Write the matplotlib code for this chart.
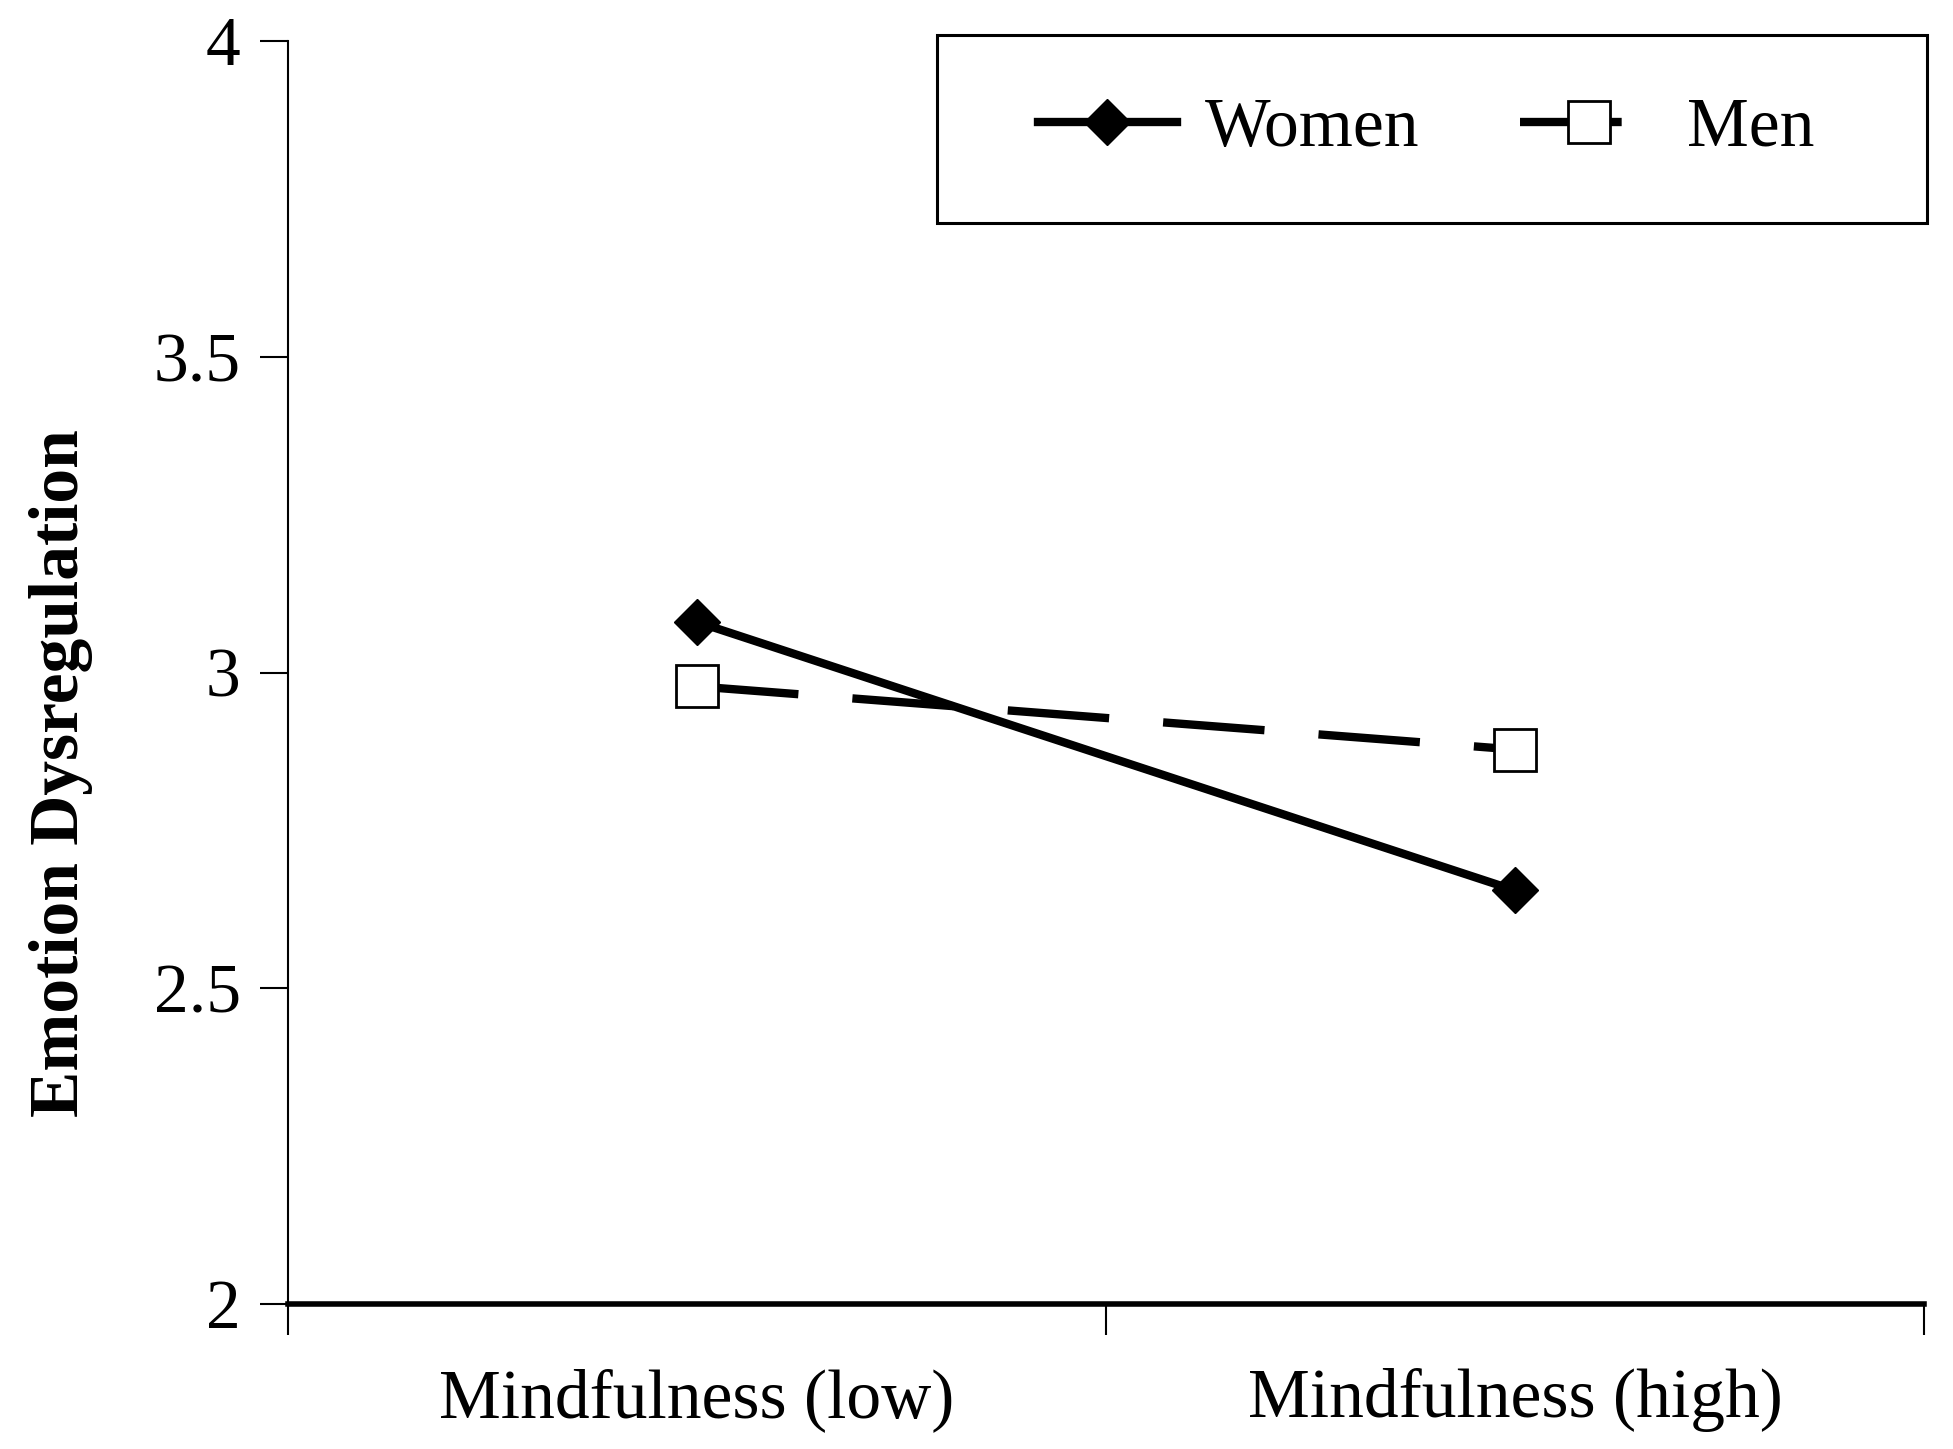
"""Emotion dysregulation by mindfulness level and gender (interaction plot)."""

import matplotlib
matplotlib.use("Agg")
import matplotlib.pyplot as plt
from matplotlib.patches import Rectangle
from matplotlib.ticker import FixedLocator

plt.rcParams["font.family"] = ["Liberation Serif", "DejaVu Serif"]

categories = ["Mindfulness (low)", "Mindfulness (high)"]
women = [3.08, 2.655]
men = [2.978, 2.878]
y_ticks = [2, 2.5, 3, 3.5, 4]
y_tick_labels = ["2", "2.5", "3", "3.5", "4"]

W, H = 1953, 1449
fig = plt.figure(figsize=(W / 100, H / 100), dpi=100)
ax = fig.add_axes([288 / W, 1 - 1304 / H, (1924 - 288) / W, (1304 - 41) / H])

LW = 6
x = [0.5, 1.5]
ax.plot(x, women, color="black", lw=LW, marker="D", markersize=23,
        markerfacecolor="black", markeredgecolor="black", label="Women")
ax.plot(x, men, color="black", lw=LW, dashes=(12.2, 6.5), marker="s", markersize=30,
        markerfacecolor="white", markeredgecolor="black", markeredgewidth=2, label="Men")

ax.set_xlim(0, 2)
ax.set_ylim(2, 4)
ax.set_yticks(y_ticks)
ax.set_yticklabels(y_tick_labels)
ax.set_xticks([0, 1, 2])
ax.set_xticklabels([])
ax.xaxis.set_minor_locator(FixedLocator(x))
ax.set_xticklabels(categories, minor=True)

ax.spines["top"].set_visible(False)
ax.spines["right"].set_visible(False)
ax.spines["left"].set_linewidth(1.5)
ax.spines["bottom"].set_linewidth(4)

ax.tick_params(axis="y", direction="out", length=20, width=1.5, pad=14, labelsize=50)
ax.tick_params(axis="x", which="major", direction="out", length=22, width=1.5)
ax.tick_params(axis="x", which="minor", length=0, pad=46, labelsize=50)

ax.set_ylabel("Emotion Dysregulation", fontsize=50, fontweight="bold")
ax.yaxis.set_label_coords(-0.119, 0.42)

# legend without its own frame; the box is drawn separately in figure pixels
leg = ax.legend(loc="center left", bbox_to_anchor=(1038 / W, 1 - 129 / H),
                bbox_transform=fig.transFigure, ncol=2, fontsize=50,
                frameon=False, borderaxespad=0, borderpad=0,
                handlelength=2.0, handletextpad=0.4, columnspacing=1.45)
box = Rectangle((937 / W, 1 - 223 / H), (1927 - 937) / W, (223 - 35) / H,
                transform=fig.transFigure, fill=False, edgecolor="black", lw=2.2)
fig.add_artist(box)

fig.savefig("out.png", dpi=100)
